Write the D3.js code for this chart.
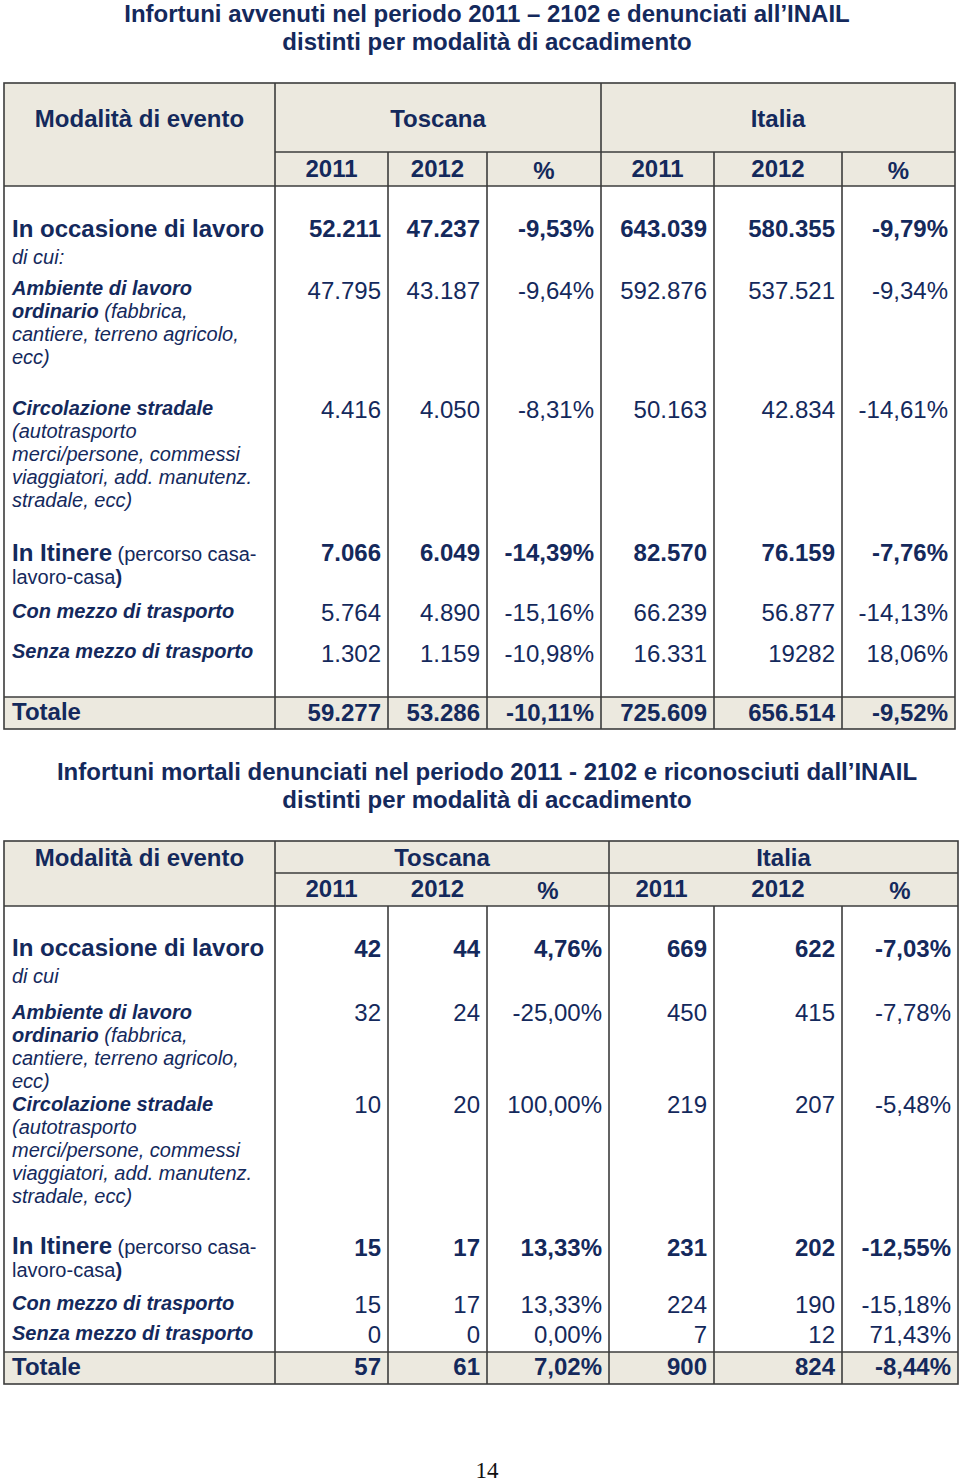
<!DOCTYPE html>
<html>
<head>
<meta charset="utf-8">
<script src="https://cdn.jsdelivr.net/npm/d3@7"></script>
<style>
  body { margin: 0; background: #fff; }
  svg { display: block; font-family: "Liberation Sans", Arial, sans-serif; }
</style>
</head>
<body>
<svg id="page" width="960" height="1482"></svg>
<script>
// ---- data ----
const regions = ["Toscana", "Italia"];
const yearCols = ["2011", "2012", "%"];
const headerLabel = "Modalità di evento";
const pageNumber = "14";

const title1 = [
    "Infortuni avvenuti nel periodo 2011 \u2013 2102 e denunciati all\u2019INAIL",
    "distinti per modalità di accadimento",
];
const title2 = [
    "Infortuni mortali denunciati nel periodo 2011 - 2102 e riconosciuti dall\u2019INAIL",
    "distinti per modalità di accadimento",
];

// row labels: lines of [text, style] segments
// styles: B = bold big, bi = bold italic, i = italic, r = regular, b = bold
const labels1 = [
    [[["In occasione di lavoro", "B"]], [["di cui:", "i"]]],
    [[["Ambiente di lavoro", "bi"]], [["ordinario", "bi"], [" (fabbrica,", "i"]], [["cantiere, terreno agricolo,", "i"]], [["ecc)", "i"]]],
    [[["Circolazione stradale", "bi"]], [["(autotrasporto", "i"]], [["merci/persone, commessi", "i"]], [["viaggiatori, add. manutenz.", "i"]], [["stradale, ecc)", "i"]]],
    [[["In Itinere", "B"], [" (percorso casa-", "r"]], [["lavoro-casa", "r"], [")", "b"]]],
    [[["Con mezzo di trasporto", "bi"]]],
    [[["Senza mezzo di trasporto", "bi"]]],
    [[["Totale", "B"]]],
];
const labels2 = labels1.map((l, i) => (i === 0 ? [l[0], [["di cui", "i"]]] : l));

const boldRows = [0, 3, 6];

// Table 1 values
const t1Toscana2011 = ["52.211", "47.795", "4.416", "7.066", "5.764", "1.302", "59.277"];
const t1Toscana2012 = ["47.237", "43.187", "4.050", "6.049", "4.890", "1.159", "53.286"];
const t1ToscanaPct = ["-9,53%", "-9,64%", "-8,31%", "-14,39%", "-15,16%", "-10,98%", "-10,11%"];
const t1Italia2011 = ["643.039", "592.876", "50.163", "82.570", "66.239", "16.331", "725.609"];
const t1Italia2012 = ["580.355", "537.521", "42.834", "76.159", "56.877", "19282", "656.514"];
const t1ItaliaPct = ["-9,79%", "-9,34%", "-14,61%", "-7,76%", "-14,13%", "18,06%", "-9,52%"];

// Table 2 values
const t2Toscana2011 = ["42", "32", "10", "15", "15", "0", "57"];
const t2Toscana2012 = ["44", "24", "20", "17", "17", "0", "61"];
const t2ToscanaPct = ["4,76%", "-25,00%", "100,00%", "13,33%", "13,33%", "0,00%", "7,02%"];
const t2Italia2011 = ["669", "450", "219", "231", "224", "7", "900"];
const t2Italia2012 = ["622", "415", "207", "202", "190", "12", "824"];
const t2ItaliaPct = ["-7,03%", "-7,78%", "-5,48%", "-12,55%", "-15,18%", "71,43%", "-8,44%"];

// ---- style ----
const ink = "#14295c";
const beige = "#ECE9DF";
const rule = "#3c3c3c";
const pad = 7;

const svg = d3.select("#page");

function drawTitle(lines, y0) {
    svg.append("g")
        .selectAll("text")
        .data(lines)
        .join("text")
        .attr("x", 487)
        .attr("y", (d, i) => y0 + i * 28)
        .attr("text-anchor", "middle")
        .attr("font-size", 24)
        .attr("font-weight", "bold")
        .attr("fill", ink)
        .text((d) => d);
}

function drawTable(cfg) {
    const L = cfg.layout;
    const cols = d3.range(L.edges.length);
    const x = d3.scaleOrdinal().domain(cols).range(L.edges);
    const rows = d3.range(cfg.labels.length);
    const yLabel = d3.scaleOrdinal().domain(rows).range(L.labelBase);
    const yValue = d3.scaleOrdinal().domain(rows).range(L.valueBase);
    const left = x(0), right = x(7);

    const g = svg.append("g");

    // shaded header and total row
    g.append("rect")
        .attr("x", left).attr("y", L.top)
        .attr("width", right - left).attr("height", L.headBottom - L.top)
        .attr("fill", beige);
    g.append("rect")
        .attr("x", left).attr("y", L.totalTop)
        .attr("width", right - left).attr("height", L.bottom - L.totalTop)
        .attr("fill", beige);

    // rules
    const lines = [
        [left, L.headBottom, right, L.headBottom],
        [left, L.totalTop, right, L.totalTop],
        [x(1), L.headSplit, right, L.headSplit],
        [x(1), L.top, x(1), L.bottom],
        [x(4), L.top, x(4), L.bottom],
    ];
    [2, 3, 5, 6].forEach((c) => {
        lines.push([x(c), L.yearLines ? L.headSplit : L.headBottom, x(c), L.bottom]);
    });
    g.selectAll("line.rule")
        .data(lines)
        .join("line")
        .attr("class", "rule")
        .attr("x1", (d) => d[0]).attr("y1", (d) => d[1])
        .attr("x2", (d) => d[2]).attr("y2", (d) => d[3])
        .attr("stroke", rule)
        .attr("stroke-width", 1.6);
    g.append("rect")
        .attr("x", left).attr("y", L.top)
        .attr("width", right - left).attr("height", L.bottom - L.top)
        .attr("fill", "none")
        .attr("stroke", rule)
        .attr("stroke-width", 1.6);

    // header text
    const head = g.append("g")
        .attr("font-size", 24)
        .attr("font-weight", "bold")
        .attr("fill", ink)
        .attr("text-anchor", "middle");
    head.append("text")
        .attr("x", (x(0) + x(1)) / 2)
        .attr("y", L.headBase1)
        .text(headerLabel);
    head.selectAll("text.region")
        .data(regions)
        .join("text")
        .attr("class", "region")
        .attr("x", (d, i) => (x(1 + i * 3) + x(4 + i * 3)) / 2)
        .attr("y", L.headBase1)
        .text((d) => d);
    const yearHeads = regions.flatMap((r, ri) => yearCols.map((y, yi) => ({ c: 1 + ri * 3 + yi, t: y })));
    head.selectAll("text.year")
        .data(yearHeads)
        .join("text")
        .attr("class", "year")
        .attr("x", (d) => (x(d.c) + x(d.c + 1)) / 2)
        .attr("y", (d) => L.headBase2 + (d.t === "%" ? 2 : 0))
        .text((d) => d.t);

    // row labels
    const styleMap = {
        B: { size: 24, weight: "bold", style: "normal" },
        bi: { size: 20, weight: "bold", style: "italic" },
        b: { size: 20, weight: "bold", style: "normal" },
        i: { size: 20, weight: "normal", style: "italic" },
        r: { size: 20, weight: "normal", style: "normal" },
    };
    rows.forEach((r) => {
        const gap = r === 0 ? 27 : 23;
        const lab = g.append("text")
            .attr("fill", ink)
            .attr("xml:space", "preserve");
        cfg.labels[r].forEach((line, li) => {
            line.forEach((seg, si) => {
                const s = styleMap[seg[1]];
                const t = lab.append("tspan")
                    .attr("font-size", s.size)
                    .attr("font-weight", s.weight)
                    .attr("font-style", s.style)
                    .text(seg[0]);
                if (si === 0) t.attr("x", 12).attr("y", yLabel(r) + li * gap);
            });
        });
    });

    // values
    cfg.values.forEach((col, ci) => {
        g.append("g")
            .selectAll("text")
            .data(col)
            .join("text")
            .attr("x", x(ci + 2) - pad)
            .attr("y", (d, r) => yValue(r))
            .attr("text-anchor", "end")
            .attr("font-size", 24)
            .attr("font-weight", (d, r) => (boldRows.includes(r) ? "bold" : "normal"))
            .attr("fill", ink)
            .text((d) => d);
    });
}

drawTitle(title1, 22);
drawTable({
    labels: labels1,
    values: [t1Toscana2011, t1Toscana2012, t1ToscanaPct, t1Italia2011, t1Italia2012, t1ItaliaPct],
    layout: {
        top: 83, headSplit: 152, headBottom: 186, totalTop: 697, bottom: 729,
        edges: [4, 275, 388, 487, 601, 714, 842, 955],
        yearLines: true, headBase1: 127, headBase2: 177,
        labelBase: [237, 295, 415, 561, 618, 658, 720],
        valueBase: [237, 299, 418, 561, 621, 662, 721],
    },
});

drawTitle(title2, 780);
drawTable({
    labels: labels2,
    values: [t2Toscana2011, t2Toscana2012, t2ToscanaPct, t2Italia2011, t2Italia2012, t2ItaliaPct],
    layout: {
        top: 841, headSplit: 873, headBottom: 906, totalTop: 1352, bottom: 1384,
        edges: [4, 275, 388, 487, 609, 714, 842, 958],
        yearLines: false, headBase1: 866, headBase2: 897,
        labelBase: [956, 1019, 1111, 1254, 1310, 1340, 1375],
        valueBase: [957, 1021, 1113, 1256, 1313, 1343, 1375],
    },
});

svg.append("text")
    .attr("x", 487)
    .attr("y", 1478)
    .attr("text-anchor", "middle")
    .attr("font-family", "'Liberation Serif', 'Times New Roman', serif")
    .attr("font-size", 23)
    .attr("fill", "#111")
    .text(pageNumber);
</script>
</body>
</html>
